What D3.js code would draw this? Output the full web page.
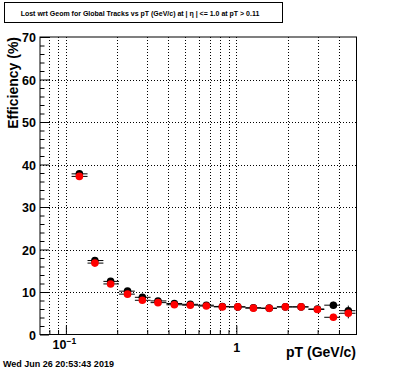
<!DOCTYPE html>
<html>
<head>
<meta charset="utf-8">
<script src="https://cdn.jsdelivr.net/npm/d3@7"></script>
<style>
  body { margin: 0; background: #fff; }
  svg text { font-family: "Liberation Sans", Arial, Helvetica, sans-serif; font-weight: bold; }
</style>
</head>
<body>
<svg id="chart" width="396" height="372"></svg>
<script>
// values
var pt = [0.120, 0.148, 0.183, 0.230, 0.281, 0.347, 0.433, 0.537, 0.667, 0.828,
          1.02, 1.26, 1.56, 1.94, 2.40, 2.99, 3.71, 4.54];
var binEdges = [0.108, 0.134, 0.166, 0.205, 0.254, 0.314, 0.389, 0.481, 0.596, 0.738,
                0.913, 1.13, 1.40, 1.73, 2.14, 2.65, 3.28, 4.06, 5.0];
var effBlack = [37.8, 17.4, 12.5, 10.2, 8.75, 7.9, 7.3, 7.1, 6.9, 6.6,
                6.5, 6.3, 6.2, 6.5, 6.5, 6.0, 6.9, 5.6];
var effRed = [37.2, 16.8, 11.9, 9.5, 8.05, 7.5, 7.0, 6.9, 6.7, 6.5,
              6.5, 6.2, 6.15, 6.5, 6.5, 5.9, 4.05, 5.0];
var errBlack = [0.5, 0.35, 0.3, 0.25, 0.25, 0.25, 0.25, 0.25, 0.25, 0.25,
                0.3, 0.3, 0.35, 0.4, 0.5, 0.6, 0.8, 1.2];
var errRed = [0.5, 0.35, 0.3, 0.25, 0.25, 0.25, 0.25, 0.25, 0.25, 0.25,
              0.3, 0.3, 0.35, 0.4, 0.5, 0.6, 0.8, 1.2];

var xMajor = [0.1, 1];
var xMinor = [0.08, 0.09, 0.2, 0.3, 0.4, 0.5, 0.6, 0.7, 0.8, 0.9, 2, 3, 4];
var yMajor = [0, 10, 20, 30, 40, 50, 60, 70];
var yMinor = [2, 4, 6, 8, 12, 14, 16, 18, 22, 24, 26, 28, 32, 34, 36, 38,
              42, 44, 46, 48, 52, 54, 56, 58, 62, 64, 66, 68];

var titleText = "Lost wrt Geom for Global Tracks vs pT (GeV/c) at |  \u03b7 | <= 1.0 at pT > 0.11";
var dateText = "Wed Jun 26 20:53:43 2019";

// frame edges (window.top is reserved, so use other names)
var fLeft = 40, fRight = 356.5, fTop = 37, fBottom = 334.5;

var svg = d3.select("#chart");

var x = d3.scaleLog().domain([0.0705, 5.07]).range([fLeft, fRight]);
var y = d3.scaleLinear().domain([0, 70]).range([fBottom, fTop]);

// title box
svg.append("rect")
    .attr("x", 4.5).attr("y", 2.5).attr("width", 278).attr("height", 20)
    .attr("fill", "#fff").attr("stroke", "#000");
svg.append("text")
    .attr("x", 140).attr("y", 15.5)
    .attr("text-anchor", "middle")
    .style("font-size", "7px")
    .text(titleText);

// grid
var grid = svg.append("g")
    .attr("stroke", "#000").attr("stroke-width", 1)
    .attr("stroke-dasharray", "1,2");
grid.selectAll("line.gx")
    .data(xMajor.concat(xMinor))
    .enter().append("line")
    .attr("x1", d => Math.round(x(d)) + 0.5).attr("x2", d => Math.round(x(d)) + 0.5)
    .attr("y1", fTop).attr("y2", fBottom);
grid.selectAll("line.gy")
    .data(yMajor.slice(1, -1))
    .enter().append("line")
    .attr("x1", fLeft).attr("x2", fRight)
    .attr("y1", d => Math.round(y(d)) + 0.5).attr("y2", d => Math.round(y(d)) + 0.5);

// axes
var xAxisMinor = d3.axisBottom(x).tickValues(xMinor).tickSizeInner(-4.5).tickSizeOuter(0).tickFormat("");
var xAxisMajor = d3.axisBottom(x).tickValues(xMajor).tickSizeInner(-9).tickSizeOuter(0)
    .tickFormat(d => d === 1 ? "1" : "");
var yAxisMinor = d3.axisLeft(y).tickValues(yMinor).tickSizeInner(-4.5).tickSizeOuter(0).tickFormat("");
var yAxisMajor = d3.axisLeft(y).tickValues(yMajor).tickSizeInner(-9).tickSizeOuter(0)
    .tickFormat(d3.format("d"));

function styleAxis(g) {
    g.select(".domain").remove();
    g.selectAll("line").attr("stroke", "#000");
    g.selectAll("text").attr("fill", "#000").style("font-size", "12.5px")
        .style("font-family", "Liberation Sans, Arial, sans-serif").style("font-weight", "bold");
}

svg.append("g").attr("transform", "translate(0," + fBottom + ")").call(xAxisMinor).call(styleAxis);
var gxm = svg.append("g").attr("transform", "translate(0," + fBottom + ")").call(xAxisMajor).call(styleAxis);
gxm.selectAll("text").attr("dy", null).attr("y", 17.5);
// 10^-1 label with superscript
gxm.selectAll(".tick").filter(d => d === 0.1).select("text")
    .attr("x", -2).attr("y", 14.5)
    .call(function(t) {
        t.append("tspan").text("10");
        t.append("tspan").attr("dy", -5).style("font-size", "8.5px").text("\u22121");
    });

svg.append("g").attr("transform", "translate(" + fLeft + ",0)").call(yAxisMinor).call(styleAxis);
var gym = svg.append("g").attr("transform", "translate(" + fLeft + ",0)").call(yAxisMajor).call(styleAxis);
gym.selectAll("text").attr("x", -4).attr("dy", "0.36em");

// frame
svg.append("rect")
    .attr("x", fLeft).attr("y", fTop)
    .attr("width", fRight - fLeft).attr("height", fBottom - fTop)
    .attr("fill", "none").attr("stroke", "#000");

// data
svg.append("clipPath").attr("id", "clip")
    .append("rect").attr("x", fLeft).attr("y", fTop).attr("width", fRight - fLeft).attr("height", fBottom - fTop);
var area = svg.append("g").attr("clip-path", "url(#clip)");

function drawSeries(vals, errs, color) {
    var g = area.append("g");
    var pts = pt.map((p, i) => ({ x: p, lo: binEdges[i], hi: binEdges[i + 1], v: vals[i], e: errs[i] }));
    g.selectAll("line.h").data(pts).enter().append("line")
        .attr("x1", d => x(d.lo)).attr("x2", d => x(d.hi))
        .attr("y1", d => y(d.v)).attr("y2", d => y(d.v))
        .attr("stroke", "#000").attr("stroke-width", 1);
    g.selectAll("line.v").data(pts).enter().append("line")
        .attr("x1", d => x(d.x)).attr("x2", d => x(d.x))
        .attr("y1", d => y(d.v - d.e)).attr("y2", d => y(d.v + d.e))
        .attr("stroke", "#000").attr("stroke-width", 1);
    g.selectAll("circle").data(pts).enter().append("circle")
        .attr("cx", d => x(d.x)).attr("cy", d => y(d.v))
        .attr("r", 3.8).attr("fill", color);
}
drawSeries(effBlack, errBlack, "#000");
drawSeries(effRed, errRed, "#ff0000");

// axis titles
svg.append("text")
    .attr("transform", "translate(18," + fTop + ") rotate(-90)")
    .attr("text-anchor", "end")
    .style("font-size", "14px")
    .text("Efficiency (%)");
svg.append("text")
    .attr("x", 356).attr("y", 357)
    .attr("text-anchor", "end")
    .style("font-size", "14px")
    .text("pT (GeV/c)");

// date stamp
svg.append("text")
    .attr("x", 3).attr("y", 367)
    .style("font-size", "9px")
    .text(dateText);
</script>
</body>
</html>
